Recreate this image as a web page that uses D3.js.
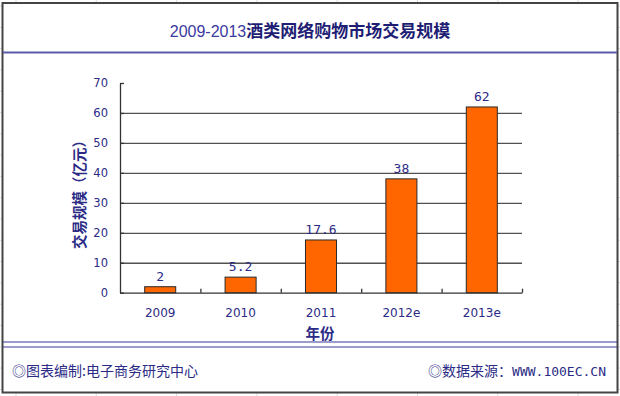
<!DOCTYPE html>
<html>
<head>
<meta charset="utf-8">
<script src="https://cdn.jsdelivr.net/npm/d3@7"></script>
<style>
  body { margin: 0; background: #fff; }
  svg { display: block; }
  .axis text { font-family: "DejaVu Sans", sans-serif; fill: #2b2b86; }
</style>
</head>
<body>
<svg width="620" height="396"></svg>
<script>
const years = ['2009', '2010', '2011', '2012e', '2013e'];
const values = [2, 5.2, 17.6, 38, 62];
const valueLabels = ['2', '5.2', '17.6', '38', '62'];
const yTicks = [0, 10, 20, 30, 40, 50, 60, 70];

const navy = '#2b2b86';
const svg = d3.select('svg');

// spreadsheet cells peeking out behind the chart box
svg.append('g').selectAll('line')
    .data(d3.range(16, 620, 80.3))
    .enter().append('line')
    .attr('x1', d => d).attr('x2', d => d)
    .attr('y1', 0).attr('y2', 396)
    .attr('stroke', '#dcdcdc');
svg.append('g').selectAll('line')
    .data(d3.range(6, 396, 21.3))
    .enter().append('line')
    .attr('x1', 0).attr('x2', 620)
    .attr('y1', d => d).attr('y2', d => d)
    .attr('stroke', '#dcdcdc');

svg.append('rect')
    .attr('x', 2.5).attr('y', 3)
    .attr('width', 615).attr('height', 389.5)
    .attr('fill', '#fff')
    .attr('stroke', '#444')
    .attr('stroke-width', 2);

// title
const title = svg.append('text')
    .attr('x', 310).attr('y', 37)
    .attr('text-anchor', 'middle');
title.append('tspan')
    .attr('font-family', '"Liberation Sans", sans-serif')
    .attr('font-size', 16)
    .attr('fill', '#3a3a9e')
    .text('2009-2013');
title.append('tspan')
    .attr('font-family', '"Noto Sans CJK SC", sans-serif')
    .attr('font-size', 17)
    .attr('font-weight', 'bold')
    .attr('fill', '#1e1e74')
    .text('酒类网络购物市场交易规模');

svg.append('line')
    .attr('x1', 3).attr('x2', 617)
    .attr('y1', 52.5).attr('y2', 52.5)
    .attr('stroke', '#5a5aaa').attr('stroke-width', 2);

// plot
const plotLeft = 120, plotRight = 522, plotTop = 83, plotBottom = 292.7;

const y = d3.scaleLinear().domain([0, 70]).range([plotBottom, plotTop]);
const x = d3.scaleBand().domain(years).range([plotLeft, plotRight])
    .paddingInner(0.614).paddingOuter(0.307);

svg.append('g')
    .attr('transform', `translate(${plotLeft},0)`)
    .call(d3.axisLeft(y).tickValues(yTicks.filter(t => t > 0 && t < 70)).tickSize(-(plotRight - plotLeft)).tickFormat(''))
    .call(g => g.select('.domain').remove())
    .call(g => g.selectAll('line').attr('stroke', '#505050').attr('stroke-width', 1.3));

svg.append('g')
    .attr('class', 'axis')
    .attr('transform', `translate(${plotLeft},0)`)
    .call(d3.axisLeft(y).tickValues(yTicks).tickSizeInner(-4).tickSizeOuter(0).tickPadding(12))
    .call(g => g.selectAll('path, line').attr('stroke', '#333').attr('stroke-width', 1.3))
    .call(g => g.selectAll('text').attr('font-size', 11.5));

// category boundary ticks on the x axis
const xb = d3.scaleLinear().domain([0, years.length]).range([plotLeft, plotRight]);
svg.append('g')
    .attr('transform', `translate(0,${plotBottom})`)
    .call(d3.axisBottom(xb).tickValues(d3.range(1, years.length + 1)).tickSizeInner(-4).tickSizeOuter(0).tickFormat(''))
    .call(g => g.selectAll('path, line').attr('stroke', '#333').attr('stroke-width', 1.3));

svg.append('g')
    .attr('class', 'axis')
    .attr('transform', `translate(0,${plotBottom})`)
    .call(d3.axisBottom(x).tickSize(0).tickPadding(16))
    .call(g => g.select('.domain').remove())
    .call(g => g.selectAll('text').attr('font-size', 12));

svg.append('g').selectAll('rect')
    .data(values)
    .enter().append('rect')
    .attr('x', (d, i) => x(years[i]))
    .attr('y', d => y(d))
    .attr('width', x.bandwidth())
    .attr('height', d => plotBottom - y(d))
    .attr('fill', '#ff6600')
    .attr('stroke', '#2a2a2a')
    .attr('stroke-width', 1);

svg.append('g').selectAll('text')
    .data(values)
    .enter().append('text')
    .attr('x', (d, i) => x(years[i]) + x.bandwidth() / 2)
    .attr('y', d => y(d) - 6)
    .attr('text-anchor', 'middle')
    .attr('font-family', '"DejaVu Sans Mono", monospace')
    .attr('font-size', 13)
    .attr('fill', navy)
    .text((d, i) => valueLabels[i]);

// axis titles
svg.append('text')
    .attr('transform', 'translate(85,191) rotate(-90)')
    .attr('text-anchor', 'middle')
    .attr('font-family', '"Noto Sans CJK SC", sans-serif')
    .attr('font-size', 14.5)
    .attr('font-weight', 'bold')
    .attr('fill', navy)
    .text('交易规模（亿元）');

svg.append('text')
    .attr('x', 320).attr('y', 339)
    .attr('text-anchor', 'middle')
    .attr('font-family', '"Noto Sans CJK SC", sans-serif')
    .attr('font-size', 14.5)
    .attr('font-weight', 'bold')
    .attr('fill', navy)
    .text('年份');

// footer
svg.append('line').attr('x1', 3).attr('x2', 617).attr('y1', 342).attr('y2', 342)
    .attr('stroke', '#3a3a9a').attr('stroke-width', 1.2);
svg.append('line').attr('x1', 3).attr('x2', 617).attr('y1', 347).attr('y2', 347)
    .attr('stroke', '#3a3a9a').attr('stroke-width', 1.2);

svg.append('text')
    .attr('x', 12).attr('y', 376)
    .attr('font-family', '"Noto Sans CJK SC", sans-serif')
    .attr('font-size', 14)
    .attr('fill', navy)
    .text('◎图表编制:电子商务研究中心');

const src = svg.append('text')
    .attr('x', 606).attr('y', 376)
    .attr('text-anchor', 'end')
    .attr('font-size', 14)
    .attr('fill', navy);
src.append('tspan')
    .attr('font-family', '"Noto Sans CJK SC", sans-serif')
    .text('◎数据来源：');
src.append('tspan')
    .attr('font-family', '"DejaVu Sans Mono", monospace')
    .attr('font-size', 13)
    .text('WWW.100EC.CN');
</script>
</body>
</html>
